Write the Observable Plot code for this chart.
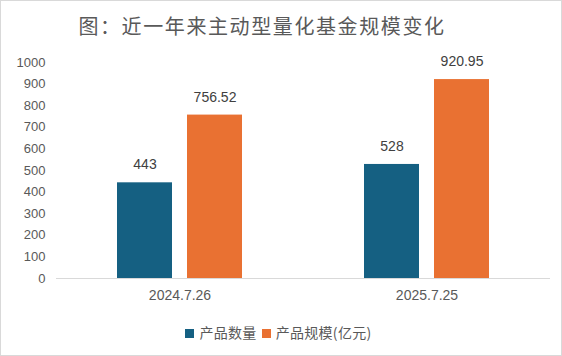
<!DOCTYPE html>
<html><head><meta charset="utf-8">
<script src="https://cdn.jsdelivr.net/npm/d3@7"></script>
<script src="https://cdn.jsdelivr.net/npm/@observablehq/plot@0.6"></script>
<style>
html,body{margin:0;padding:0;background:#fff;}
#wrap{position:relative;box-sizing:border-box;width:562px;height:356px;border:1px solid #d9d9d9;font-family:"Liberation Sans","Noto Sans CJK SC",sans-serif;overflow:hidden;}
#title{height:47px;line-height:49px;text-align:center;padding-right:38px;font-size:20px;color:#595959;font-family:"Noto Sans CJK SC",sans-serif;font-weight:400;letter-spacing:1.6px;}
#legend{position:absolute;left:0;right:0;top:321px;text-align:center;font-size:14px;color:#595959;font-family:"Noto Sans CJK SC",sans-serif;}
#legend span.sw{display:inline-block;width:9px;height:9px;margin-right:5px;vertical-align:0px;}
#legend span.it{margin-right:5px;letter-spacing:0.3px;}
</style></head>
<body><div id="wrap"><div id="title">图：近一年来主动型量化基金规模变化</div><div id="chart"></div><div id="legend"></div></div>
<script>
const dates = ["2024.7.26", "2025.7.25"];
const seriesNames = ["产品数量", "产品规模(亿元)"];
const counts = [443, 528];
const countLabels = ["443", "528"];
const sizes = [756.52, 920.95];
const sizeLabels = ["756.52", "920.95"];
const yTicks = [0, 100, 200, 300, 400, 500, 600, 700, 800, 900, 1000];
const colors = ["#156082", "#e97132"];

const data = [];
dates.forEach((d, i) => {
  data.push({date: d, series: seriesNames[0], value: counts[i], label: countLabels[i]});
  data.push({date: d, series: seriesNames[1], value: sizes[i], label: sizeLabels[i]});
});

const chart = Plot.plot({
  width: 560, height: 262,
  marginLeft: 55, marginRight: 11, marginTop: 14, marginBottom: 32,
  style: {color: "#595959", fontFamily: "Liberation Sans, sans-serif", background: "transparent"},
  fx: {domain: dates, padding: 0, label: null},
  x: {domain: seriesNames, paddingInner: 0.214, paddingOuter: 0.871, axis: null},
  y: {domain: [0, 1000], label: null},
  color: {domain: seriesNames, range: colors},
  marks: [
    Plot.axisY({ticks: yTicks, tickFormat: d => String(d), tickSize: 0, tickPadding: 11, fontSize: 13, label: null}),
    Plot.axisFx({anchor: "bottom", tickSize: 0, tickPadding: 12, fontSize: 14, label: null}),
    Plot.barY(data, {fx: "date", x: "series", y: "value", fill: "series"}),
    Plot.text(data, {fx: "date", x: "series", y: "value", text: "label", dy: -18, fontSize: 14, fill: "#404040"}),
    Plot.ruleY([0], {stroke: "#d9d9d9"})
  ]
});
document.getElementById("chart").appendChild(chart);

const legend = document.getElementById("legend");
seriesNames.forEach((s, i) => {
  const sw = document.createElement("span"); sw.className = "sw"; sw.style.background = colors[i];
  const t = document.createElement("span"); t.className = "it"; t.textContent = s;
  legend.appendChild(sw); legend.appendChild(t);
});
</script></body></html>
